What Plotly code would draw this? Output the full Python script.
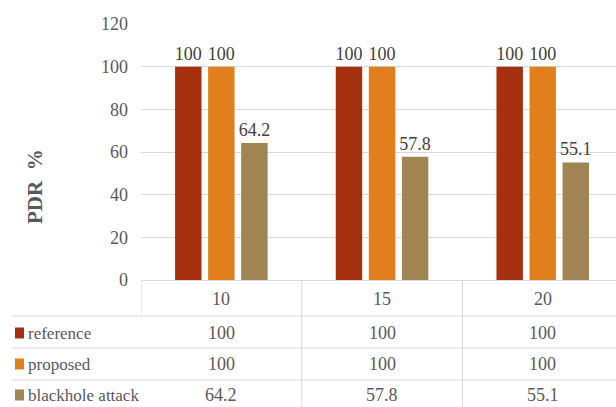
import plotly.graph_objects as go

categories = ["10", "15", "20"]
series_names = ["reference", "proposed", "blackhole attack"]
reference = [100, 100, 100]
proposed = [100, 100, 100]
blackhole = [64.2, 57.8, 55.1]
series_values = [reference, proposed, blackhole]
colors = ["#A5300F", "#E07F1B", "#A08453"]
y_ticks = [0, 20, 40, 60, 80, 100, 120]

W, H = 616, 407
L, R, T, B = 141, 0, 24, 127
PW, PH = W - L - R, H - T - B


def px(x):
    return (x - L) / PW


def py(y):
    return (H - B - y) / PH


FONT = "Liberation Serif"
GRID = "#D9D9D9"
TXT = "#595959"

fig = go.Figure()
for name, vals, col in zip(series_names, series_values, colors):
    fig.add_trace(go.Bar(
        x=categories, y=vals, name=name, marker_color=col,
        marker_line_width=0,
        text=[f"{v:g}" for v in vals], textposition="outside",
        constraintext="none",
        textfont=dict(family=FONT, size=18, color="#404040"),
        cliponaxis=False,
    ))

shapes = []
annotations = []
row_lines = [316, 348, 380]
for yl in row_lines:
    shapes.append(dict(type="line", xref="paper", yref="paper",
                       x0=px(12), x1=1, y0=py(yl), y1=py(yl),
                       line=dict(color=GRID, width=1)))
shapes.append(dict(type="line", xref="x", yref="paper", x0=-0.5, x1=-0.5,
                   y0=0, y1=py(316), line=dict(color=GRID, width=1)))
for i in range(len(categories) - 1):
    shapes.append(dict(type="line", xref="x", yref="paper", x0=i + 0.5, x1=i + 0.5,
                       y0=0, y1=py(410), line=dict(color=GRID, width=1)))

for i, c in enumerate(categories):
    annotations.append(dict(x=i, y=py(299), xref="x", yref="paper", text=c,
                            xanchor="center", yanchor="middle",
                            showarrow=False, font=dict(family=FONT, size=18, color=TXT)))
row_centers = [333, 364, 395]
for name, vals, col, yc in zip(series_names, series_values, colors, row_centers):
    shapes.append(dict(type="rect", xref="paper", yref="paper",
                       x0=px(15), x1=px(24), y0=py(yc + 5.5), y1=py(yc - 5.5),
                       fillcolor=col, line=dict(width=0)))
    annotations.append(dict(x=px(26), y=py(yc), xref="paper", yref="paper", text=name,
                            xanchor="left", yanchor="middle", showarrow=False,
                            font=dict(family=FONT, size=17, color=TXT)))
    for i, v in enumerate(vals):
        annotations.append(dict(x=i, y=py(yc), xref="x", yref="paper", text=f"{v:g}",
                                xanchor="center", yanchor="middle",
                                showarrow=False, font=dict(family=FONT, size=18, color=TXT)))

annotations.append(dict(x=px(35), y=py(187), xref="paper", yref="paper",
                        text="<b>PDR\u00a0\u00a0%</b>", textangle=-90, showarrow=False,
                        xanchor="center", yanchor="middle",
                        font=dict(family=FONT, size=21, color=TXT)))

fig.update_layout(
    width=W, height=H,
    margin=dict(l=L, r=R, t=T, b=B, pad=0),
    paper_bgcolor="white", plot_bgcolor="white",
    barmode="group", bargap=0.383, bargroupgap=0.2,
    showlegend=False,
    shapes=shapes, annotations=annotations,
    xaxis=dict(range=[-0.5, 2.456], showticklabels=False, showgrid=False,
               showline=True, linecolor=GRID, linewidth=1, ticks="", zeroline=False),
    yaxis=dict(range=[0, 120], tickvals=y_ticks, showgrid=True, gridcolor=GRID,
               gridwidth=1, zeroline=False, showline=False, ticks="",
               tickfont=dict(family=FONT, size=18, color=TXT), ticklabelstandoff=12),
)

fig.write_html("out.html", config={"displayModeBar": False},
               post_script="document.body.style.margin='0';document.body.style.overflow='hidden';")
